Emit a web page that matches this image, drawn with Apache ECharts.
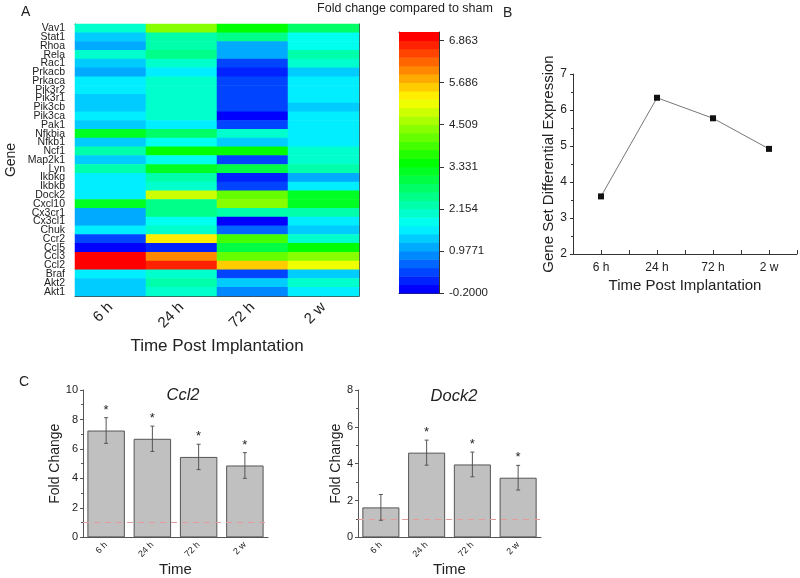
<!DOCTYPE html>
<html><head><meta charset="utf-8">
<script src="https://cdn.jsdelivr.net/npm/echarts@6/dist/echarts.min.js"></script>
<style>html,body{margin:0;padding:0;background:#fff}#c{width:800px;height:578px}</style>
</head><body><div id="c"></div>
<script>
const genes = ['Vav1','Stat1','Rhoa','Rela','Rac1','Prkacb','Prkaca','Pik3r2','Pik3r1','Pik3cb','Pik3ca','Pak1','Nfkbia','Nfkb1','Ncf1','Map2k1','Lyn','Ikbkg','Ikbkb','Dock2','Cxcl10','Cx3cr1','Cx3cl1','Chuk','Ccr2','Ccl5','Ccl3','Ccl2','Braf','Akt2','Akt1'];
const times = ['6 h','24 h','72 h','2 w'];
const fold6h  = [2.0,1.3,1.0,2.0,1.3,1.0,1.6,1.6,1.4,1.4,1.5,1.3,3.15,1.3,2.2,1.3,2.2,1.63,1.63,1.63,3.25,1.0,1.0,1.55,0.3,-0.15,7.05,7.05,1.63,1.35,1.35];
const fold24h = [4.4,2.2,2.2,2.45,1.95,1.63,1.95,1.95,1.95,2.15,1.95,1.63,2.8,1.85,3.5,1.85,3.25,2.2,2.0,4.8,2.5,2.6,1.75,1.95,5.3,0.15,6.1,6.8,1.95,2.2,2.15];
const fold72h = [3.35,2.4,1.0,1.0,0.4,0.15,0.45,0.45,0.45,0.45,-0.05,0.5,2.15,1.4,3.45,0.5,2.9,0.25,0.5,4.15,4.5,2.2,0.0,0.6,4.0,3.0,4.2,5.6,0.3,1.25,0.8];
const fold2w  = [2.8,1.9,1.85,2.2,2.0,1.3,1.63,1.63,1.63,1.4,1.63,1.63,1.63,1.63,2.15,2.0,2.2,1.0,1.45,3.25,3.1,2.2,1.65,1.3,2.0,3.45,4.5,5.0,1.3,2.15,1.63];
const cbTickValues = [-0.2, 0.9771, 2.154, 3.331, 4.509, 5.686, 6.863];
const cbTickLabels = ['-0.2000','0.9771','2.154','3.331','4.509','5.686','6.863'];
const gsdeValues = [3.60, 6.34, 5.77, 4.92];
const ccl2Mean = [7.25, 6.69, 5.46, 4.88];
const ccl2Err  = [0.87, 0.86, 0.86, 0.87];
const ccl2Sig  = ['*','*','*','*'];
const dock2Mean = [1.63, 4.60, 3.96, 3.24];
const dock2Err  = [0.70, 0.68, 0.67, 0.67];
const dock2Sig  = ['','*','*','*'];

const FONT = 'Liberation Sans, Arial, sans-serif';
const cbMin = -0.2, cbMax = 7.1, cbSplits = 31;

const cols = [fold6h, fold24h, fold72h, fold2w];
const heatData = [];
cols.forEach((col, c) => col.forEach((v, r) => heatData.push([c, r, v])));

const cbStep = (cbMax - cbMin) / cbSplits;
const cbBands = [];
for (let i = 0; i < cbSplits; i++) {
  const lo = cbMin + i * cbStep, hi = lo + cbStep;
  cbBands.push([lo, hi, (lo + hi) / 2]);
}

function errRenderer(sigArr) {
  return function (params, api) {
    const x = api.value(0), lo = api.value(1), hi = api.value(2);
    const pLo = api.coord([x, lo]), pHi = api.coord([x, hi]);
    const cap = 2;
    const st = { stroke: '#555', lineWidth: 1 };
    const children = [
      { type: 'line', shape: { x1: pHi[0], y1: pHi[1], x2: pLo[0], y2: pLo[1] }, style: st },
      { type: 'line', shape: { x1: pHi[0] - cap, y1: pHi[1], x2: pHi[0] + cap, y2: pHi[1] }, style: st },
      { type: 'line', shape: { x1: pLo[0] - cap, y1: pLo[1], x2: pLo[0] + cap, y2: pLo[1] }, style: st }
    ];
    const s = sigArr[params.dataIndex];
    if (s) children.push({ type: 'text', style: { text: s, x: pHi[0], y: pHi[1] - 1, align: 'center', verticalAlign: 'bottom', fontSize: 13, fontFamily: FONT, fill: '#222' } });
    return { type: 'group', children };
  };
}

const txt = '#222';
function titleItem(text, left, top, size, extra) {
  return Object.assign({ text, left, top, padding: 0, textStyle: { fontSize: size, fontWeight: 'normal', color: txt, fontFamily: FONT } }, extra || {});
}

const barAxisX = (gi) => ({
  gridIndex: gi, type: 'category', data: times,
  axisLine: { lineStyle: { color: '#555' } },
  axisTick: { alignWithLabel: true, length: 3, lineStyle: { color: '#555' } },
  axisLabel: { rotate: 45, fontSize: 9, margin: 6, color: txt, interval: 0, fontFamily: FONT },
  name: 'Time', nameLocation: 'middle', nameGap: 22,
  nameTextStyle: { fontSize: 15, color: txt, fontFamily: FONT }
});
const barAxisY = (gi, max, gap) => ({
  gridIndex: gi, type: 'value', min: 0, max: max, interval: 2,
  axisLine: { show: true, lineStyle: { color: '#555' } },
  axisTick: { show: true, length: 3, lineStyle: { color: '#555' } },
  minorTick: { show: true, splitNumber: 2, length: 2, lineStyle: { color: '#555' } },
  splitLine: { show: false },
  axisLabel: { fontSize: 11, margin: 5, color: txt, fontFamily: FONT },
  name: 'Fold Change', nameLocation: 'middle', nameGap: gap,
  nameTextStyle: { fontSize: 14, color: txt, fontFamily: FONT }
});

const option = {
  animation: false,
  backgroundColor: '#fff',
  textStyle: { fontFamily: FONT },
  title: [
    titleItem('A', 21, 5, 14),
    titleItem('Fold change compared to sham', 405, 2, 12.5, { textAlign: 'center' }),
    titleItem('B', 503, 6, 14),
    titleItem('C', 19, 375, 14),
    { text: 'Ccl2', left: 183, top: 387, padding: 0, textAlign: 'center', textStyle: { fontSize: 16.5, fontStyle: 'italic', fontWeight: 'normal', color: txt, fontFamily: FONT } },
    { text: 'Dock2', left: 454, top: 388, padding: 0, textAlign: 'center', textStyle: { fontSize: 16.5, fontStyle: 'italic', fontWeight: 'normal', color: txt, fontFamily: FONT } }
  ],
  visualMap: {
    type: 'piecewise', show: false, min: cbMin, max: cbMax, splitNumber: cbSplits,
    dimension: 2, seriesIndex: [0, 1],
    inRange: { color: ['#0000ff', '#00ffff', '#00ff00', '#ffff00', '#ff0000'] }
  },
  grid: [
    { left: 75, top: 24, width: 284, height: 272 },
    { left: 399, top: 32, width: 40, height: 261 },
    { left: 573, top: 74, width: 224, height: 180 },
    { left: 83, top: 390, width: 185, height: 149 },
    { left: 358, top: 390, width: 183, height: 149 }
  ],
  xAxis: [
    { gridIndex: 0, type: 'category', data: times, position: 'bottom',
      axisLine: { lineStyle: { color: '#444' } },
      axisTick: { alignWithLabel: true, length: 6, interval: 0, lineStyle: { color: '#444' } },
      axisLabel: { rotate: 45, fontSize: 15, margin: 9, color: txt, interval: 0 },
      splitArea: { show: false }, splitLine: { show: false },
      name: 'Time Post Implantation', nameLocation: 'middle', nameGap: 42,
      nameTextStyle: { fontSize: 17, color: txt } },
    { gridIndex: 0, type: 'category', data: times, position: 'top',
      axisLine: { lineStyle: { color: '#444' } }, axisTick: { show: false }, axisLabel: { show: false },
      splitArea: { show: false }, splitLine: { show: false } },
    { gridIndex: 1, type: 'value', min: 0, max: 1, position: 'bottom',
      axisLine: { show: true, onZero: false, lineStyle: { color: '#333' } }, axisTick: { show: false }, axisLabel: { show: false }, splitLine: { show: false } },
    { gridIndex: 1, type: 'value', min: 0, max: 1, position: 'top',
      axisLine: { show: true, onZero: false, lineStyle: { color: '#333' } }, axisTick: { show: false }, axisLabel: { show: false }, splitLine: { show: false } },
    { gridIndex: 2, type: 'value', min: -0.5, max: 3.5, interval: 0.5,
      axisLine: { show: true, onZero: false, lineStyle: { color: '#333' } },
      axisTick: { show: true, inside: true, length: 4, lineStyle: { color: '#333' } },
      axisLabel: { fontSize: 12, margin: 8, color: txt,
        formatter: v => { const r = Math.round(v); return Math.abs(v - r) < 1e-6 && r >= 0 && r < times.length ? times[r] : ''; } },
      splitLine: { show: false },
      name: 'Time Post Implantation', nameLocation: 'middle', nameGap: 24,
      nameTextStyle: { fontSize: 15, color: txt } },
    barAxisX(3),
    barAxisX(4)
  ],
  yAxis: [
    { gridIndex: 0, type: 'category', data: genes, inverse: true,
      axisLine: { lineStyle: { color: '#444' } },
      axisTick: { alignWithLabel: true, length: 7, interval: 0, lineStyle: { color: '#444' } },
      axisLabel: { fontSize: 10.5, margin: 10, color: txt, interval: 0 },
      splitArea: { show: false }, splitLine: { show: false },
      name: 'Gene', nameLocation: 'middle', nameGap: 57,
      nameTextStyle: { fontSize: 14, color: txt } },
    { gridIndex: 0, type: 'category', data: genes, inverse: true, position: 'right',
      axisLine: { lineStyle: { color: '#444' } }, axisTick: { show: false }, axisLabel: { show: false },
      splitArea: { show: false }, splitLine: { show: false } },
    { gridIndex: 1, type: 'value', min: cbMin, max: cbMax, position: 'right',
      axisLine: { show: true, onZero: false, lineStyle: { color: '#333' } },
      axisTick: { show: true, customValues: cbTickValues, length: 5, lineStyle: { color: '#333' } },
      axisLabel: { customValues: cbTickValues, margin: 10, fontSize: 11.5, color: txt,
        formatter: v => { const i = cbTickValues.findIndex(t => Math.abs(t - v) < 1e-6); return i >= 0 ? cbTickLabels[i] : ''; } },
      splitLine: { show: false } },
    { gridIndex: 1, type: 'value', min: cbMin, max: cbMax, position: 'left',
      axisLine: { show: true, onZero: false, lineStyle: { color: '#333' } }, axisTick: { show: false }, axisLabel: { show: false }, splitLine: { show: false } },
    { gridIndex: 2, type: 'value', min: 2, max: 7, interval: 1,
      axisLine: { show: true, onZero: false, lineStyle: { color: '#333' } },
      axisTick: { show: true, length: 3, lineStyle: { color: '#333' } },
      minorTick: { show: true, splitNumber: 2, length: 2, lineStyle: { color: '#333' } },
      splitLine: { show: false },
      axisLabel: { fontSize: 12, margin: 6, color: txt },
      name: 'Gene Set Differential Expression', nameLocation: 'middle', nameGap: 13,
      nameTextStyle: { fontSize: 15, color: txt } },
    barAxisY(3, 10, 18),
    barAxisY(4, 8, 13)
  ],
  series: [
    { type: 'heatmap', xAxisIndex: 0, yAxisIndex: 0, data: heatData, emphasis: { disabled: true }, progressive: 0 },
    { type: 'custom', xAxisIndex: 2, yAxisIndex: 2, data: cbBands, silent: true,
      encode: { x: -1, y: [0, 1] },
      renderItem: (params, api) => {
        const lo = api.value(0), hi = api.value(1);
        const p0 = api.coord([0, lo]), p1 = api.coord([1, hi]);
        return { type: 'rect', shape: { x: p0[0], y: p1[1], width: p1[0] - p0[0], height: p0[1] - p1[1] + 0.5 },
          style: { fill: api.visual('color') } };
      } },
    { type: 'line', xAxisIndex: 4, yAxisIndex: 4, data: gsdeValues.map((v, i) => [i, v]),
      symbol: 'rect', symbolSize: 6, lineStyle: { color: '#777', width: 1 }, itemStyle: { color: '#111' } },
    { type: 'bar', xAxisIndex: 5, yAxisIndex: 5, data: ccl2Mean, barWidth: '81%',
      itemStyle: { color: '#c0c0c0', borderColor: '#555', borderWidth: 1 },
      markLine: { silent: true, symbol: ['none', 'none'], label: { show: false },
        lineStyle: { color: '#e29c9c', type: [6, 5], width: 1 }, data: [{ yAxis: 1 }] } },
    { type: 'custom', xAxisIndex: 5, yAxisIndex: 5, z: 5,
      data: ccl2Mean.map((m, i) => [i, m - ccl2Err[i], m + ccl2Err[i]]), renderItem: errRenderer(ccl2Sig) },
    { type: 'bar', xAxisIndex: 6, yAxisIndex: 6, data: dock2Mean, barWidth: '81%',
      itemStyle: { color: '#c0c0c0', borderColor: '#555', borderWidth: 1 },
      markLine: { silent: true, symbol: ['none', 'none'], label: { show: false },
        lineStyle: { color: '#e29c9c', type: [6, 5], width: 1 }, data: [{ yAxis: 1 }] } },
    { type: 'custom', xAxisIndex: 6, yAxisIndex: 6, z: 5,
      data: dock2Mean.map((m, i) => [i, m - dock2Err[i], m + dock2Err[i]]), renderItem: errRenderer(dock2Sig) }
  ]
};

const chart = echarts.init(document.getElementById('c'), null, { renderer: 'canvas' });
chart.setOption(option);
</script>
</body></html>
